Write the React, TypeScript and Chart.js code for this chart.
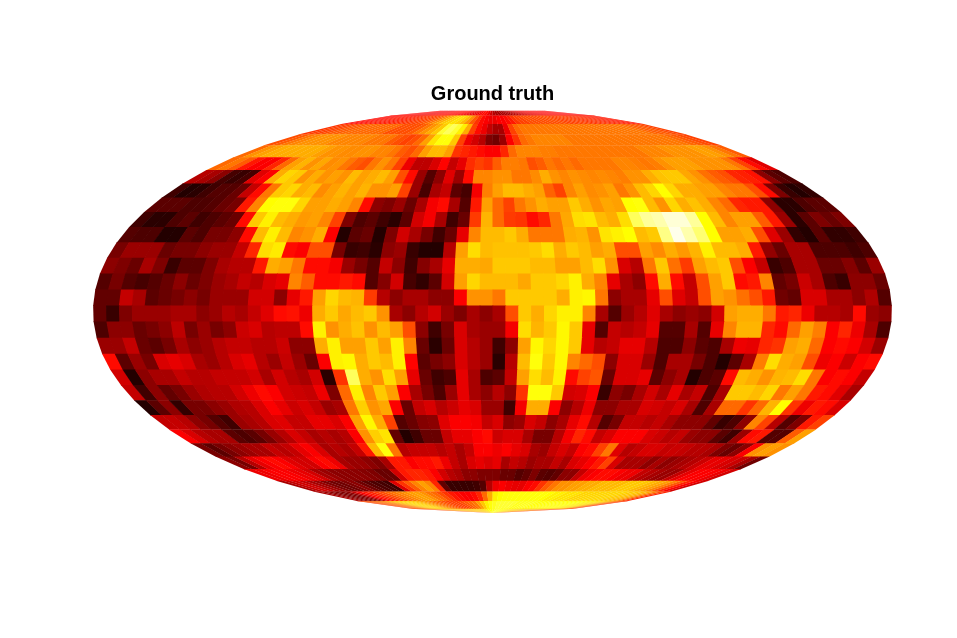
import React, { useEffect, useRef } from "react";
import { Chart, registerables } from "chart.js";

Chart.register(...registerables);

const chartTitle = "Ground truth";
const latEdges = [87.5, 83.2, 77.4, 71.5, 65.7, 59.9, 54.1, 48.3, 42.5, 36.7, 30.9, 25.1, 19.4, 13.6, 7.8, 2, -3.8, -9.7, -15.5, -21.3, -27.1, -32.9, -38.7, -44.5, -50.3, -56.1, -61.9, -67.7, -73.5, -79.3, -85.1, -90];

const row00 = [38,38,36,36,36,36,34,34,34,34,36,36,38,38,38,38,38,38,38,36,36,34,34,33,33,34,36,38,38,34,30,26,24,24,24,24,24,24,26,26,28,30,30,32,32,34,34,34,34,36,36,36,36,36,36,36,36,36,36,36,36,36];
const row01 = [38,38,38,38,40,40,40,40,40,42,42,44,44,46,46,48,50,54,58,62,66,68,70,68,64,58,50,44,38,36,34,34,36,36,38,40,44,46,46,48,48,48,48,48,48,48,48,46,46,46,46,46,44,44,44,44,42,42,42,40,40,40];
const row02 = [44,46,46,48,50,50,52,52,52,52,52,52,52,48,48,48,48,50,54,58,62,66,80,84,80,72,62,46,38,34,28,24,24,34,46,52,54,54,54,54,54,54,54,54,54,54,54,54,54,54,54,54,54,54,54,54,54,52,50,50,48,46];
const row03 = [48,50,54,56,58,58,58,58,56,56,56,56,56,54,54,54,50,48,46,48,52,60,70,76,76,66,46,34,30,26,18,16,22,36,44,52,54,56,56,56,56,56,54,54,54,54,54,54,54,54,54,54,54,54,54,54,54,54,52,50,48,46];
const row04 = [52,58,60,62,62,62,62,62,62,60,58,58,57,57,58,58,56,56,54,50,48,52,60,64,64,60,44,42,40,38,36,36,42,52,56,56,56,55,55,54,54,54,54,54,54,54,54,54,54,54,56,56,56,58,58,58,58,60,60,58,54,50];
const row05 = [52,54,50,40,36,36,42,52,60,63,58,61,57,58,54,50,48,54,58,54,46,34,27,27,31,37,28,33,43,46,44,50,55,55,54,48,50,54,52,54,52,54,54,54,54,56,56,55,54,55,58,60,60,60,58,58,58,58,54,46,38,32];
const row06 = [26,24,20,10,8,10,32,36,62,68,66,58,62,58,60,58,64,60,62,64,60,48,38,22,12,20,32,22,38,56,56,58,58,54,54,57,62,58,56,58,57,56,57,56,55,58,58,62,65,66,66,61,58,53,50,48,42,41,39,20,13,11];
const row07 = [9,5,6,9,12,12,15,28,38,54,66,68,62,64,57,60,63,60,63,58,58,60,46,22,10,24,28,13,10,35,55,60,64,64,62,60,51,46,56,60,57,58,60,54,58,64,68,74,68,62,62,60,60,56,54,54,48,38,18,8,5,7];
const row08 = [13,13,13,11,11,12,15,17,40,56,74,76,76,68,60,60,62,60,56,38,20,18,22,15,24,35,38,24,12,40,60,52,46,54,58,62,60,60,66,62,58,61,60,74,76,64,58,68,62,65,62,56,52,42,40,40,20,6,6,11,13,13];
const row09 = [9,6,6,11,13,9,11,13,15,38,66,72,64,62,59,60,56,46,18,11,13,9,6,13,30,35,24,9,15,45,63,52,45,44,38,42,54,61,69,70,64,62,69,84,90,92,96,96,90,74,64,56,60,60,50,40,22,6,13,18,15,18];
const row10 = [12,11,11,5,5,13,11,17,17,20,38,64,72,64,56,58,62,36,5,13,15,5,18,30,24,17,9,15,33,56,64,64,66,62,54,54,54,62,63,58,70,72,74,64,66,88,98,92,86,74,60,60,62,48,32,22,7,5,13,7,7,9];
const row11 = [17,22,22,22,15,17,17,20,22,22,28,42,69,71,38,36,48,48,17,8,9,6,20,22,8,5,5,26,60,69,64,65,65,65,66,69,62,66,64,60,62,48,48,60,57,62,59,63,72,64,64,62,40,21,15,24,24,11,11,11,9,11];
const row12 = [20,18,15,24,18,8,13,13,18,24,26,26,40,62,60,54,38,38,35,22,17,12,28,20,9,19,24,33,62,62,61,66,66,66,64,64,60,60,64,69,58,31,26,54,66,53,45,60,64,66,48,36,28,8,11,24,24,15,15,19,13,22];
const row13 = [12,17,12,10,12,15,20,15,18,22,24,28,26,31,33,56,50,38,38,40,38,12,19,30,10,7,13,30,60,68,64,64,64,61,66,66,68,72,62,56,33,24,20,38,62,38,28,48,60,66,38,40,56,14,17,29,24,11,8,20,20,15];
const row14 = [14,14,28,24,13,15,17,20,17,22,22,22,30,30,20,33,40,60,68,64,63,45,26,20,24,24,20,20,36,58,58,54,66,66,66,66,62,72,73,54,20,24,24,33,48,32,28,48,60,58,53,48,40,16,14,31,31,24,24,20,25,12];
const row15 = [14,8,18,22,22,22,24,24,20,22,26,24,28,32,38,39,34,62,66,61,64,66,58,24,20,26,30,22,18,24,20,24,48,66,62,68,72,72,56,24,12,22,26,32,24,20,22,20,30,60,62,62,54,40,42,34,26,26,24,38,22,20];
const row16 = [11,20,20,15,17,20,27,17,22,17,20,29,31,26,27,27,38,72,58,62,65,58,64,60,48,20,9,17,31,24,22,22,35,69,63,66,73,66,33,12,28,26,28,33,12,12,24,12,33,56,63,63,42,38,52,60,55,36,42,34,24,11];
const row17 = [22,22,28,15,13,17,24,20,22,26,28,28,26,26,29,20,20,62,72,60,60,66,60,72,56,15,6,15,31,26,22,9,20,60,73,68,73,66,33,26,28,33,33,26,11,11,20,13,11,24,34,33,42,44,60,62,52,36,38,36,30,22];
const row18 = [38,13,22,17,31,33,31,24,22,26,31,33,26,22,28,22,15,36,72,73,62,66,64,72,37,13,17,20,31,26,22,6,26,64,76,66,73,56,52,48,20,31,31,22,11,24,24,17,11,5,13,24,55,69,62,60,48,34,36,29,36,38];
const row19 = [30,5,20,24,24,28,26,26,28,28,28,30,24,30,26,24,30,6,44,84,62,58,69,60,33,15,9,11,33,24,11,13,28,60,69,64,72,38,46,49,15,31,31,33,13,20,24,5,11,13,38,64,62,58,63,64,69,54,36,38,36,28];
const row20 = [28,9,20,14,17,22,25,26,26,30,34,38,36,30,29,28,34,18,52,72,56,66,60,36,24,17,11,22,33,24,20,26,20,44,76,76,66,30,31,36,8,20,17,24,30,24,33,24,28,11,24,66,66,64,68,54,60,54,40,38,32,24];
const row21 = [5,13,20,7,17,17,20,22,25,26,31,36,33,29,31,28,22,24,54,67,58,61,36,15,28,31,26,29,33,31,22,22,9,35,62,62,36,20,26,34,20,20,24,24,31,30,28,31,24,11,24,52,52,44,52,63,74,44,34,40,38,31];
const row22 = [28,28,26,20,17,12,9,22,24,26,31,32,28,28,33,33,31,36,60,73,62,46,12,15,19,20,32,36,36,35,28,31,20,22,31,28,20,24,33,38,26,12,17,28,28,26,28,24,20,20,20,14,8,11,20,56,46,26,12,18,40,46];
const row23 = [36,31,26,24,24,13,11,13,17,22,26,31,28,24,26,24,26,36,58,67,70,14,5,9,15,15,28,33,33,36,38,29,31,31,24,17,17,26,35,42,38,28,31,36,36,36,31,29,26,28,22,20,20,13,9,22,38,40,12,12,50,60];
const row24 = [17,13,17,20,22,24,24,28,26,28,33,36,31,24,26,24,28,40,64,76,54,26,28,28,28,26,28,24,28,36,36,34,36,33,31,24,22,28,31,28,36,38,46,54,32,26,28,31,31,28,29,28,26,26,24,18,15,20,36,58,60,58];
const row25 = [20,17,26,33,36,38,36,32,30,30,36,38,34,24,22,22,20,18,24,40,40,36,38,38,40,34,28,24,31,33,31,33,24,28,26,22,24,24,28,24,31,33,36,40,46,31,24,24,24,20,24,20,22,24,26,29,33,33,31,29,24,16];
const row26 = [34,34,36,36,36,34,33,30,24,22,20,20,20,20,19,18,15,15,30,40,42,42,40,36,30,26,24,20,20,18,18,18,15,15,12,14,18,13,12,14,20,20,28,34,36,38,38,36,34,34,28,26,24,22,22,28,33,36,36,36,34,30];
const row27 = [24,28,30,28,24,22,18,16,16,18,20,16,13,11,10,9,32,44,50,56,60,56,42,14,8,8,8,8,9,12,26,34,36,34,33,33,36,38,44,50,54,58,58,60,60,62,62,64,64,64,64,66,66,66,64,62,60,56,50,42,36,30];
const row28 = [24,22,20,18,18,20,28,36,40,42,46,48,52,54,56,58,60,60,58,54,52,48,44,40,38,36,36,38,42,52,62,72,75,76,76,76,76,76,76,76,76,74,72,72,70,70,70,68,68,68,68,68,68,68,68,66,66,64,62,56,48,42];
const row29 = [46,48,50,52,54,56,60,64,66,68,68,68,66,64,60,58,54,52,50,48,46,46,46,48,50,52,54,60,66,72,76,78,80,80,80,80,80,78,78,78,78,78,76,76,76,76,76,76,76,74,74,74,74,72,72,70,70,66,62,56,50,44];
const row30 = [44,46,48,50,52,54,56,58,60,62,64,64,64,64,64,64,64,64,64,64,66,66,66,66,66,68,68,70,72,74,76,78,80,80,78,76,74,72,72,70,70,68,68,66,66,66,64,64,64,62,62,62,60,60,58,56,54,52,50,48,46,44];

const grid = [row00,row01,row02,row03,row04,row05,row06,row07,row08,row09,row10,row11,row12,row13,row14,row15,row16,row17,row18,row19,row20,row21,row22,row23,row24,row25,row26,row27,row28,row29,row30];

const clamp = (v: number) => Math.max(0, Math.min(1, v));
function hot(pct: number): string {
  const t = pct / 100;
  const r = Math.round(255 * clamp(t / 0.365));
  const g = Math.round(255 * clamp((t - 0.365) / 0.375));
  const b = Math.round(255 * clamp((t - 0.75) / 0.25));
  return `rgb(${r},${g},${b})`;
}

// Mollweide auxiliary angle for a latitude in degrees
function auxAngle(latDeg: number): number {
  const phi = (latDeg * Math.PI) / 180;
  if (Math.abs(latDeg) >= 90) return Math.sign(latDeg) * Math.PI / 2;
  let th = phi;
  for (let i = 0; i < 60; i++) {
    const d = (2 * th + Math.sin(2 * th) - Math.PI * Math.sin(phi)) / (2 + 2 * Math.cos(2 * th));
    th -= d;
    if (Math.abs(d) < 1e-9) break;
  }
  return th;
}

const mollweideCells = {
  id: "mollweideCells",
  beforeDatasetsDraw(chart: any) {
    const { ctx, scales } = chart;
    const sx = scales.x;
    const sy = scales.y;
    const project = (col: number, nCols: number, lat: number) => {
      const th = auxAngle(lat);
      const frac = (col / nCols) * 2 - 1;
      return [sx.getPixelForValue(frac * Math.cos(th)), sy.getPixelForValue(Math.sin(th))];
    };
    ctx.save();
    grid.forEach((row, r) => {
      const n = row.length;
      // each cell overlaps the next one a little, so no seams show between cells
      const lowerLat = r < grid.length - 1 ? latEdges[r + 1] - 0.2 : latEdges[r + 1];
      row.forEach((value, c) => {
        const right = c < n - 1 ? c + 1.06 : c + 1;
        const a = project(c, n, latEdges[r]);
        const b = project(right, n, latEdges[r]);
        const d = project(right, n, lowerLat);
        const e = project(c, n, lowerLat);
        ctx.fillStyle = hot(value);
        ctx.beginPath();
        ctx.moveTo(a[0], a[1]);
        ctx.lineTo(b[0], b[1]);
        ctx.lineTo(d[0], d[1]);
        ctx.lineTo(e[0], e[1]);
        ctx.closePath();
        ctx.fill();
      });
    });
    ctx.restore();
  },
};

export default function App() {
  const ref = useRef<HTMLCanvasElement | null>(null);
  useEffect(() => {
    document.body.style.margin = "0";
    const chart = new Chart(ref.current as HTMLCanvasElement, {
      type: "scatter",
      data: { datasets: [{ data: [], pointRadius: 0 }] },
      options: {
        animation: false,
        responsive: false,
        layout: { padding: { left: 93, right: 65, top: 0, bottom: 125 } },
        plugins: {
          legend: { display: false },
          tooltip: { enabled: false },
          title: {
            display: true,
            text: chartTitle,
            color: "#000000",
            font: { family: "'Liberation Sans', Arial, sans-serif", size: 20, weight: "bold", lineHeight: 1.2 },
            padding: { top: 82, bottom: 3 },
          },
        },
        scales: {
          x: { type: "linear", min: -1, max: 1, display: false },
          y: { type: "linear", min: -1, max: 1, display: false },
        },
      },
      plugins: [mollweideCells],
    } as any);
    return () => chart.destroy();
  }, []);
  return <canvas ref={ref} width={957} height={638} style={{ display: "block" }} />;
}
